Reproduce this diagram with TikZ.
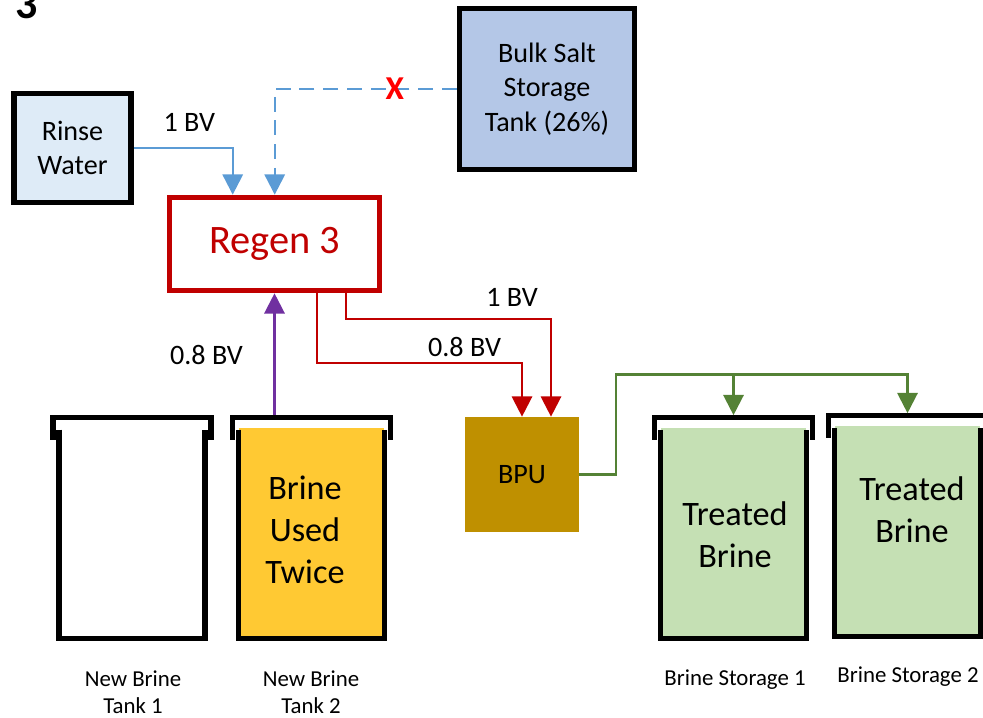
\documentclass[tikz,border=0pt]{standalone}
\usepackage{fontspec}
\setmainfont{Carlito}
\usetikzlibrary{arrows.meta,calc,positioning}
\definecolor{rinsefill}{HTML}{DEEBF7}
\definecolor{saltfill}{HTML}{B4C7E7}
\definecolor{regenred}{HTML}{C00000}
\definecolor{bpugold}{HTML}{BF9000}
\definecolor{usedyellow}{HTML}{FFC933}
\definecolor{treatedgreen}{HTML}{C5E0B4}
\definecolor{pipegreen}{HTML}{548235}
\definecolor{pipeblue}{HTML}{5B9BD5}
\definecolor{pipepurple}{HTML}{7030A0}

\begin{document}
\begin{tikzpicture}[x=0.02cm,y=-0.02cm,
    box/.style={draw,line width=3.2pt,align=center,font=\fontsize{16}{19.5}\selectfont},
    pipe/.style={line width=1.3pt,-{Triangle[length=11.5pt,width=11.5pt]}},
    flow/.style={text=black,font=\fontsize{16}{19}\selectfont},
    tankbody/.style={minimum width=2.9cm,minimum height=4.2cm,inner sep=0pt},
    tankline/.style={line width=3.2pt},
    tanktext/.style={align=center,font=\fontsize{19.5}{24}\selectfont},
    tanklabel/.style={align=center,font=\fontsize{13}{15.3}\selectfont}]
    \useasboundingbox (0,0) rectangle (983,717);
    \node[font=\fontsize{25}{30}\selectfont\bfseries,anchor=base] (title) at (27,18) {3};

    \node[box,fill=rinsefill,minimum width=2.35cm,minimum height=2.18cm] (rinse) at (72.5,148) {Rinse\\Water};
    \node[box,fill=saltfill,minimum width=3.5cm,minimum height=3.22cm] (salt) at (547,89) {Bulk Salt\\Storage\\Tank (26\%)};
    \node[box,draw=regenred,text=regenred,minimum width=4.2cm,minimum height=1.86cm,font=\fontsize{23}{27}\selectfont] (regen) at (274.5,244) {Regen 3};
    \node[fill=bpugold,minimum width=2.28cm,minimum height=2.3cm,font=\fontsize{16}{19}\selectfont] (bpu) at (522,474.5) {BPU};

    \foreach \name/\x/\y/\col in {newone/132/533/white,newtwo/311.5/533/usedyellow,storeone/733.5/533/treatedgreen,storetwo/907.5/531/treatedgreen} {
      \node[tankbody,fill=\col] (\name) at (\x,\y) {};
      \draw[tankline] ($(\name.north west)+(0,2)$) -- (\name.south west) -- (\name.south east) -- ($(\name.north east)+(0,2)$);
      \draw[tankline] ($(\name.north west)+(-6,12)$) -- ($(\name.north west)+(-6,-10)$) -- ($(\name.north east)+(6,-10)$) -- ($(\name.north east)+(6,12)$);
      \coordinate (\name-top) at ($(\name.north)+(0,-12.5)$);
    }

    \node[tanktext] (usedtext) at (305,530) {Brine\\Used\\Twice};
    \node[tanktext] (storeonetext) at (735,535) {Treated\\Brine};
    \node[tanktext] (storetwotext) at (912,510) {Treated\\Brine};

    \node[tanklabel] (newonelabel) at (133,692) {New Brine\\Tank 1};
    \node[tanklabel] (newtwolabel) at (311,692) {New Brine\\Tank 2};
    \node[tanklabel] (storeonelabel) at (735,680) {Brine Storage 1};
    \node[tanklabel] (storetwolabel) at (908,677) {Brine Storage 2};

    \draw[pipe,pipeblue] (rinse.east) -| ($(regen.north west)+(66,0)$) node[flow,pos=0.28,above=5.5pt] {1 BV};
    \draw[pipe,pipeblue,dash pattern=on 8.5pt off 5pt] (salt.west) -| ($(regen.north west)+(108,0)$)
      node[pos=0.17,text=red,font=\fontsize{19}{22}\bfseries\selectfont] {X};
    \draw[pipe,pipepurple] (newtwo-top -| regen.south) -- (regen.south) node[flow,pos=0.49,left=14pt] {0.8 BV};
    \draw[pipe,regenred] ($(regen.south west)+(150,0)$) -- ++(0,70) -| (bpu.north) node[flow,pos=0.36,above] {0.8 BV};
    \draw[pipe,regenred] ($(regen.south west)+(179,0)$) -- ++(0,26) -| ($(bpu.north)+(29,0)$) node[flow,pos=0.405,above=3.5pt] {1 BV};
    \draw[pipe,pipegreen] (bpu.east) -- ++(37,0) -- ++(0,-100) coordinate (split) -| (storeone-top);
    \draw[pipe,pipegreen] (split) -| (storetwo-top);
  \end{tikzpicture}
\end{document}
